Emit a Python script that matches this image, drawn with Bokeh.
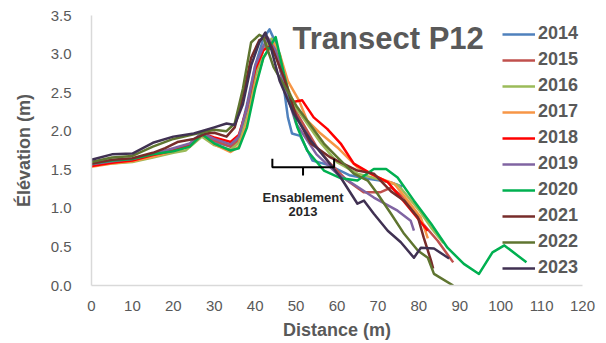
from bokeh.plotting import figure
from bokeh.models import Range1d, Legend, LegendItem, Label, FixedTicker, NumeralTickFormatter, ColumnDataSource
from bokeh.core.properties import value
from bokeh.embed import file_html
from bokeh.resources import INLINE

# Beach profile, transect P12: distance (m) vs elevation (m), one survey per year
years = ["2014", "2015", "2016", "2017", "2018", "2019", "2020", "2021", "2022", "2023"]
colors = ["#4F81BD", "#C0504D", "#9BBB59", "#F79646", "#FF0000",
          "#8064A2", "#00B050", "#772C2A", "#5F7530", "#403152"]

x_2014 = [0, 5, 10, 15, 20, 24, 27, 30, 34, 36, 38, 40, 42, 43.5, 45, 47, 48, 49, 51, 54, 58, 63, 68, 73, 76]
y_2014 = [1.57, 1.60, 1.62, 1.69, 1.76, 1.80, 1.95, 1.86, 1.80, 1.90, 2.35, 2.85, 3.20, 3.32, 3.15, 2.57, 2.18, 1.97, 1.94, 1.62, 1.56, 1.43, 1.38, 1.34, 1.28]

x_2015 = [0, 5, 10, 15, 20, 24, 27, 30, 34, 36, 38, 40, 42, 43.5, 45, 47, 50, 55, 58, 62.5, 66.5, 70.7, 73.2, 76.4, 79.7, 84.6, 88.4]
y_2015 = [1.55, 1.59, 1.63, 1.70, 1.76, 1.82, 1.97, 1.88, 1.80, 1.88, 2.25, 2.75, 3.10, 3.18, 3.05, 2.70, 2.25, 1.80, 1.60, 1.36, 1.21, 1.21, 1.27, 1.14, 0.88, 0.58, 0.30]

x_2016 = [0, 5, 10, 15, 20, 23, 27, 30, 34, 36, 38, 40, 42, 44, 46, 48, 50, 52, 56, 60, 65, 70, 75, 80, 83, 86]
y_2016 = [1.56, 1.58, 1.60, 1.66, 1.72, 1.75, 1.93, 1.82, 1.76, 1.85, 2.20, 2.70, 3.05, 3.20, 3.00, 2.55, 2.30, 2.15, 1.85, 1.60, 1.45, 1.38, 1.30, 0.98, 0.75, 0.55]

x_2017 = [0, 5, 10, 15, 20, 24, 27, 30, 34, 36, 38, 40, 42, 44.5, 46, 48, 50.7, 52.7, 56, 60.1, 65, 69.9, 74, 77.3, 80.5, 82.2]
y_2017 = [1.54, 1.58, 1.61, 1.67, 1.74, 1.80, 1.96, 1.83, 1.73, 1.80, 2.10, 2.60, 2.95, 3.15, 3.00, 2.65, 2.40, 2.14, 1.97, 1.79, 1.53, 1.40, 1.32, 1.10, 0.88, 0.61]

x_2018 = [0, 5, 10, 15, 20, 24, 27, 30, 34, 36, 38, 40, 42, 43.5, 45, 47, 49.2, 51.5, 54.3, 57.6, 60.9, 64.1, 68.3, 72.4, 74.8, 78.8, 82.2]
y_2018 = [1.55, 1.59, 1.62, 1.69, 1.75, 1.82, 1.97, 1.92, 1.86, 1.95, 2.30, 2.80, 3.05, 3.10, 3.00, 2.65, 2.38, 2.40, 2.18, 2.03, 1.84, 1.58, 1.45, 1.34, 1.19, 0.93, 0.71]

x_2019 = [0, 5, 10, 15, 20, 24, 27, 30, 34, 36, 38, 40, 43, 45, 47, 50, 55, 60, 65, 69, 74.8, 78, 78.8]
y_2019 = [1.57, 1.61, 1.64, 1.71, 1.78, 1.84, 1.98, 1.90, 1.83, 1.93, 2.30, 2.85, 3.22, 3.05, 2.60, 2.10, 1.70, 1.45, 1.28, 1.14, 0.97, 0.84, 0.71]

x_2020 = [0, 5, 10, 15, 20, 24, 27, 30, 34, 36, 38, 40, 42, 45, 47, 50.3, 52.7, 56.8, 61, 65, 69, 72, 74.8, 78.8, 83, 87, 91, 94.7, 98, 100.9, 106.3]
y_2020 = [1.58, 1.62, 1.64, 1.70, 1.74, 1.80, 1.96, 1.84, 1.75, 1.78, 2.05, 2.55, 2.95, 3.22, 2.75, 2.05, 1.75, 1.49, 1.39, 1.36, 1.51, 1.51, 1.40, 1.10, 0.80, 0.49, 0.28, 0.15, 0.43, 0.52, 0.30]

x_2021 = [0, 5, 10, 15, 18, 21, 25, 28, 30, 33, 35, 37, 39, 41, 42.8, 44, 47, 50, 53.6, 58.4, 65, 69, 73.2, 76.4, 79.8, 81.2, 83, 83.5]
y_2021 = [1.58, 1.63, 1.65, 1.72, 1.78, 1.86, 1.90, 1.97, 1.98, 1.93, 2.05, 2.45, 2.95, 3.18, 3.22, 3.10, 2.70, 2.20, 1.84, 1.66, 1.49, 1.45, 1.22, 1.10, 0.88, 0.62, 0.32, 0.22]

x_2022 = [0, 5, 10, 15, 20, 25, 30, 33, 35, 37, 39, 41, 42, 44.5, 47.8, 50.3, 52.7, 56.8, 60.1, 64.1, 67.5, 69.9, 73.2, 76.4, 79.8, 82.2, 83.7, 88.4]
y_2022 = [1.60, 1.66, 1.68, 1.80, 1.90, 1.96, 2.02, 2.00, 2.10, 2.55, 3.15, 3.25, 3.22, 2.83, 2.53, 2.31, 2.14, 1.84, 1.66, 1.45, 1.36, 1.19, 0.93, 0.67, 0.45, 0.36, 0.15, 0.00]

x_2023 = [0, 5, 10, 15, 20, 25, 30, 33, 35, 37, 39, 41, 42.5, 44, 46, 49.4, 53.6, 57.6, 60.9, 65, 66.6, 69, 72.4, 75.6, 78.8, 80.5, 83.7, 87.4]
y_2023 = [1.63, 1.70, 1.71, 1.85, 1.93, 1.97, 2.05, 2.10, 2.08, 2.35, 2.85, 3.15, 3.28, 3.05, 2.65, 2.23, 1.88, 1.62, 1.40, 1.06, 1.10, 0.93, 0.71, 0.56, 0.36, 0.49, 0.48, 0.35]

xs = [x_2014, x_2015, x_2016, x_2017, x_2018, x_2019, x_2020, x_2021, x_2022, x_2023]
ys = [y_2014, y_2015, y_2016, y_2017, y_2018, y_2019, y_2020, y_2021, y_2022, y_2023]

x_ticks = [0, 10, 20, 30, 40, 50, 60, 70, 80, 90, 100, 110, 120]
y_ticks = [0.0, 0.5, 1.0, 1.5, 2.0, 2.5, 3.0, 3.5]

# "Ensablement 2013" bracket: span of the 2013 sand deposit
bracket_x = [44.2, 44.2, 59.3, 59.3]
bracket_y = [1.643, 1.534, 1.534, 1.643]
bracket_mid_x = 51.7
bracket_mid_y = [1.534, 1.427]
note_lines = ["Ensablement", "2013"]
note_y = [1.135, 0.953]

FONT = "Liberation Sans"
GREY = "#595959"

p = figure(width=606, height=343, output_backend="svg", toolbar_location=None,
           x_range=Range1d(0, 120), y_range=Range1d(0, 3.5),
           min_border_left=91, min_border_right=24, min_border_top=15, min_border_bottom=58)
p.outline_line_color = None
p.grid.visible = False
p.background_fill_color = "white"
p.border_fill_color = "white"

for ax in (p.xaxis[0], p.yaxis[0]):
    ax.axis_line_color = "#D9D9D9"
    ax.axis_line_width = 1.5
    ax.major_tick_line_color = None
    ax.minor_tick_line_color = None
    ax.major_label_text_font = FONT
    ax.major_label_text_font_size = "15px"
    ax.major_label_text_color = GREY
    ax.axis_label_text_font = FONT
    ax.axis_label_text_font_size = "18px"
    ax.axis_label_text_font_style = "bold"
    ax.axis_label_text_color = GREY

p.xaxis.ticker = FixedTicker(ticks=x_ticks)
p.yaxis.ticker = FixedTicker(ticks=y_ticks)
p.yaxis.formatter = NumeralTickFormatter(format="0.0")
p.xaxis.axis_label = "Distance (m)"
p.yaxis.axis_label = "Élévation (m)"
p.xaxis.major_label_standoff = 9
p.xaxis.axis_label_standoff = 6
p.yaxis.major_label_standoff = 14
p.yaxis.axis_label_standoff = 14

items = []
for yr, c, xv, yv in zip(years, colors, xs, ys):
    src = ColumnDataSource(dict(x=xv, y=yv))
    r = p.line("x", "y", source=src, line_color=c, line_width=2.5, line_join="round")
    items.append(LegendItem(label=yr, renderers=[r]))

legend = Legend(items=items, location=(411, 7), orientation="vertical",
                glyph_width=33, glyph_height=20, label_height=20, spacing=5,
                padding=0, margin=0, label_standoff=3,
                label_text_font=FONT, label_text_font_size="18px",
                label_text_font_style="bold", label_text_color=GREY,
                background_fill_alpha=0, border_line_color=None)
p.add_layout(legend)

# bracket and its caption
p.line(bracket_x, bracket_y, line_color="black", line_width=2)
p.line([bracket_mid_x, bracket_mid_x], bracket_mid_y, line_color="black", line_width=2)
p.text(x=[bracket_mid_x] * len(note_lines), y=note_y, text=note_lines,
       text_font=value(FONT), text_font_size="13px", text_font_style="bold",
       text_color="#262626", text_align="center", text_baseline="alphabetic")

title = Label(x=72.5, y=3.20, text="Transect P12", text_font=FONT,
              text_font_size="31px", text_font_style="bold", text_color=GREY,
              text_align="center", text_baseline="alphabetic")
p.add_layout(title)

open("out.html", "w").write(file_html(p, INLINE))
